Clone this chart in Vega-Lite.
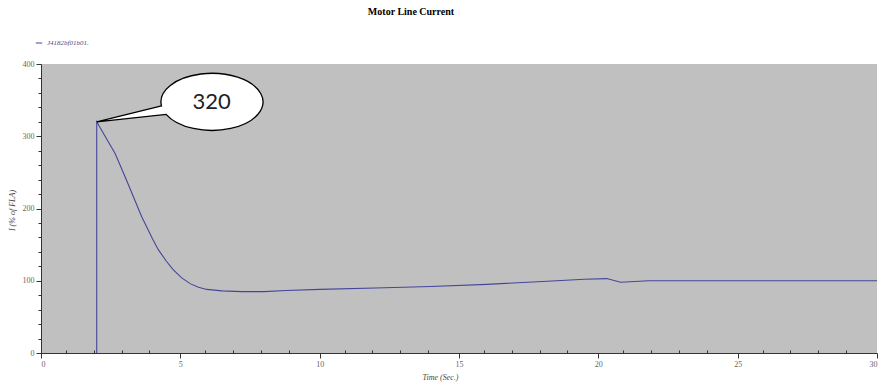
{
  "$schema": "https://vega.github.io/schema/vega-lite/v6.json",
  "autosize": "none",
  "width": 836,
  "height": 289,
  "padding": {"left": 41, "top": 64, "right": 2, "bottom": 30},
  "background": "white",
  "title": {
    "text": "Motor Line Current",
    "font": "Liberation Serif",
    "fontSize": 10,
    "fontWeight": "bold",
    "color": "#000000",
    "anchor": "middle",
    "frame": "group",
    "dx": -48,
    "offset": 22
  },
  "config": {
    "view": {"fill": "#c0c0c0", "stroke": null},
    "axis": {
      "labelFont": "Liberation Serif",
      "labelFontSize": 8,
      "labelColor": "#666666",
      "titleFont": "Liberation Serif",
      "titleFontSize": 8,
      "titleFontStyle": "italic",
      "titleFontWeight": "normal",
      "titleColor": "#444444",
      "domainColor": "#333333",
      "tickColor": "#333333",
      "grid": false
    }
  },
  "datasets": {
    "curve": [
      {"i": 0, "t": 2.0, "current": 0, "series": "J4182bf01b01."},
      {"i": 1, "t": 2.0, "current": 320, "series": "J4182bf01b01."},
      {"i": 2, "t": 2.3, "current": 300, "series": "J4182bf01b01."},
      {"i": 3, "t": 2.66, "current": 276, "series": "J4182bf01b01."},
      {"i": 4, "t": 3.07, "current": 239, "series": "J4182bf01b01."},
      {"i": 5, "t": 3.61, "current": 189, "series": "J4182bf01b01."},
      {"i": 6, "t": 4.0, "current": 158, "series": "J4182bf01b01."},
      {"i": 7, "t": 4.21, "current": 143, "series": "J4182bf01b01."},
      {"i": 8, "t": 4.5, "current": 127, "series": "J4182bf01b01."},
      {"i": 9, "t": 4.75, "current": 115, "series": "J4182bf01b01."},
      {"i": 10, "t": 5.05, "current": 104, "series": "J4182bf01b01."},
      {"i": 11, "t": 5.35, "current": 96, "series": "J4182bf01b01."},
      {"i": 12, "t": 5.65, "current": 91, "series": "J4182bf01b01."},
      {"i": 13, "t": 5.95, "current": 88, "series": "J4182bf01b01."},
      {"i": 14, "t": 6.5, "current": 86, "series": "J4182bf01b01."},
      {"i": 15, "t": 7.2, "current": 85, "series": "J4182bf01b01."},
      {"i": 16, "t": 8.0, "current": 85, "series": "J4182bf01b01."},
      {"i": 17, "t": 8.8, "current": 86.5, "series": "J4182bf01b01."},
      {"i": 18, "t": 10, "current": 88, "series": "J4182bf01b01."},
      {"i": 19, "t": 12, "current": 90, "series": "J4182bf01b01."},
      {"i": 20, "t": 14, "current": 92, "series": "J4182bf01b01."},
      {"i": 21, "t": 16, "current": 95, "series": "J4182bf01b01."},
      {"i": 22, "t": 18, "current": 99, "series": "J4182bf01b01."},
      {"i": 23, "t": 19.5, "current": 102, "series": "J4182bf01b01."},
      {"i": 24, "t": 20.3, "current": 103, "series": "J4182bf01b01."},
      {"i": 25, "t": 20.8, "current": 98, "series": "J4182bf01b01."},
      {"i": 26, "t": 21.3, "current": 99, "series": "J4182bf01b01."},
      {"i": 27, "t": 21.8, "current": 100, "series": "J4182bf01b01."},
      {"i": 28, "t": 25, "current": 100, "series": "J4182bf01b01."},
      {"i": 29, "t": 30, "current": 100, "series": "J4182bf01b01."}
    ],
    "peak": [
      {"t": 2.0, "current": 320, "label": "320"}
    ],
    "minor": [
      {"t": 0, "current": 0}
    ]
  },
  "layer": [
    {
      "data": {"name": "minor"},
      "mark": {"type": "point", "opacity": 0},
      "encoding": {
        "x": {
          "field": "t", "type": "quantitative",
          "scale": {"domain": [0, 30], "nice": false},
          "axis": {
            "orient": "bottom",
            "values": [1,2,3,4,6,7,8,9,11,12,13,14,16,17,18,19,21,22,23,24,26,27,28,29],
            "labels": false, "tickSize": 3, "domain": false, "title": null, "translate": -2.5
          }
        },
        "y": {
          "field": "current", "type": "quantitative",
          "scale": {"domain": [0, 400], "nice": false},
          "axis": {
            "orient": "left",
            "values": [20,40,60,80,120,140,160,180,220,240,260,280,320,340,360,380],
            "labels": false, "tickSize": 3, "domain": false, "title": null
          }
        }
      }
    },
    {
      "data": {"name": "curve"},
      "mark": {"type": "line", "strokeWidth": 1.1, "interpolate": "linear"},
      "encoding": {
        "x": {
          "field": "t", "type": "quantitative",
          "scale": {"domain": [0, 30], "nice": false},
          "axis": {
            "orient": "bottom",
            "values": [0, 5, 10, 15, 20, 25, 30],
            "tickSize": 5, "labelPadding": 2,
            "title": "Time (Sec.)",
            "titleX": 399, "titleY": 24, "titleBaseline": "middle", "titleAlign": "center"
          }
        },
        "y": {
          "field": "current", "type": "quantitative",
          "scale": {"domain": [0, 400], "nice": false},
          "axis": {
            "orient": "left",
            "values": [0, 100, 200, 300, 400],
            "tickSize": 5, "labelPadding": 2,
            "title": "I (% of FLA)",
            "titleX": -29, "titleY": 146, "titleAngle": -90, "titleBaseline": "middle", "titleAlign": "center"
          }
        },
        "order": {"field": "i", "type": "quantitative"},
        "color": {
          "field": "series", "type": "nominal",
          "scale": {"range": ["#45459a"]},
          "legend": {
            "title": null,
            "orient": "none",
            "legendX": -6,
            "legendY": -25,
            "symbolType": "stroke",
            "symbolSize": 40,
            "symbolStrokeWidth": 1,
            "labelFont": "Liberation Serif",
            "labelFontStyle": "italic",
            "labelFontSize": 7,
            "labelColor": "#4a4a8a",
            "padding": 0
          }
        }
      }
    },
    {
      "data": {"name": "peak"},
      "mark": {
        "type": "point",
        "shape": "M 1.27 -0.31 L 0 0 L 1.36 -0.146 A 1 0.56 0 1 0 1.27 -0.31 Z",
        "size": 10404,
        "filled": true,
        "fill": "#ffffff",
        "stroke": "#000000",
        "strokeWidth": 1.3,
        "opacity": 1
      },
      "encoding": {
        "x": {"field": "t", "type": "quantitative", "axis": null},
        "y": {"field": "current", "type": "quantitative", "axis": null}
      }
    },
    {
      "data": {"name": "peak"},
      "mark": {
        "type": "text",
        "dx": 115,
        "dy": -20,
        "font": "Lato",
        "fontSize": 22,
        "color": "#222222",
        "align": "center",
        "baseline": "middle"
      },
      "encoding": {
        "x": {"field": "t", "type": "quantitative", "axis": null},
        "y": {"field": "current", "type": "quantitative", "axis": null},
        "text": {"field": "label"}
      }
    }
  ],
  "resolve": {"axis": {"x": "independent", "y": "independent"}}
}
